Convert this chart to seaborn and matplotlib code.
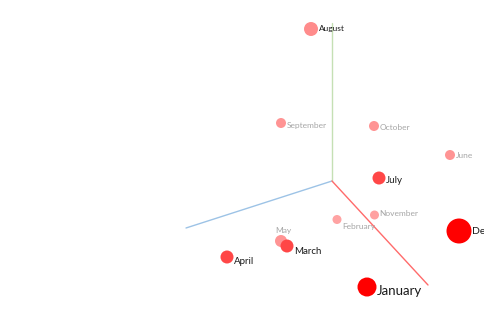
import numpy as np
import pandas as pd
import matplotlib
matplotlib.use('Agg')
import matplotlib.pyplot as plt
import seaborn as sns

# projected (screen) positions of each month point, depth = nearness to the viewer
months = ['August', 'September', 'October', 'June', 'July', 'November',
          'February', 'December', 'May', 'March', 'April', 'January']
screen_x = [311, 281, 374, 450, 379, 374.5, 337, 459, 281, 287, 227, 367]
screen_y = [29, 123, 126, 155, 178, 215, 219.5, 231, 241, 246, 257, 287]
diameter = [14, 10, 10, 10, 13, 9, 9, 25, 12, 13, 13, 19]
depth = [0.45, 0.42, 0.42, 0.42, 0.72, 0.37, 0.36, 1.0, 0.42, 0.72, 0.72, 1.0]

# 3D axes drawn from the common origin
axis_names = ['x', 'y', 'z']
origin = (332, 181)
axis_end_x = [186, 332, 428]
axis_end_y = [228, 23, 285]
axis_colors = ['#9dc3e6', '#c5e0b4', '#ff6b6b']

# label styling
label_size = {'January': 9.5, 'December': 7.5, 'July': 7, 'March': 7,
              'April': 7, 'August': 6}
label_dy = {'August': -1, 'March': 6, 'April': 4, 'February': 6.5,
            'November': -2, 'October': 1, 'June': 1, 'December': 1}
dark_labels = ['January', 'December', 'July', 'March', 'April', 'August']

df = pd.DataFrame({'month': months, 'x': screen_x, 'y': screen_y,
                   'd': diameter, 'depth': depth})
df = df.sort_values('depth', kind='stable')


def blend_red(a):
    return (1.0, 1 - a, 1 - a)


sns.set_theme(style='white')
plt.rcParams['font.family'] = ['Lato', 'DejaVu Sans']

fig = plt.figure(figsize=(4.85, 3.11), dpi=100)
ax = fig.add_axes([0, 0, 1, 1])

for name, ex, ey, c in zip(axis_names, axis_end_x, axis_end_y, axis_colors):
    ax.plot([origin[0], ex], [origin[1], ey], color=c, lw=1, zorder=1)

palette = {m: blend_red(a) for m, a in zip(df['month'], df['depth'])}
sizes = ((df['d'] * 0.72) ** 2).values
sns.scatterplot(data=df, x='x', y='y', hue='month', palette=palette,
                s=sizes, linewidth=0, legend=False, ax=ax, zorder=3)

for _, row in df.iterrows():
    m = row['month']
    fs = label_size.get(m, 6)
    col = '#1a1a1a' if m in dark_labels else '#a6a6a6'
    if m == 'May':
        ax.text(row['x'] + 2, row['y'] - 10, m, fontsize=fs, color=col,
                ha='center', va='center', zorder=4)
    else:
        dy = label_dy.get(m, fs * 0.4)
        ax.text(row['x'] + row['d'] / 2 + 0.5, row['y'] + dy, m,
                fontsize=fs, color=col, ha='left', va='center', zorder=4)

ax.set_xlim(0, 485)
ax.set_ylim(311, 0)
ax.axis('off')
fig.savefig('out.png', dpi=100)
